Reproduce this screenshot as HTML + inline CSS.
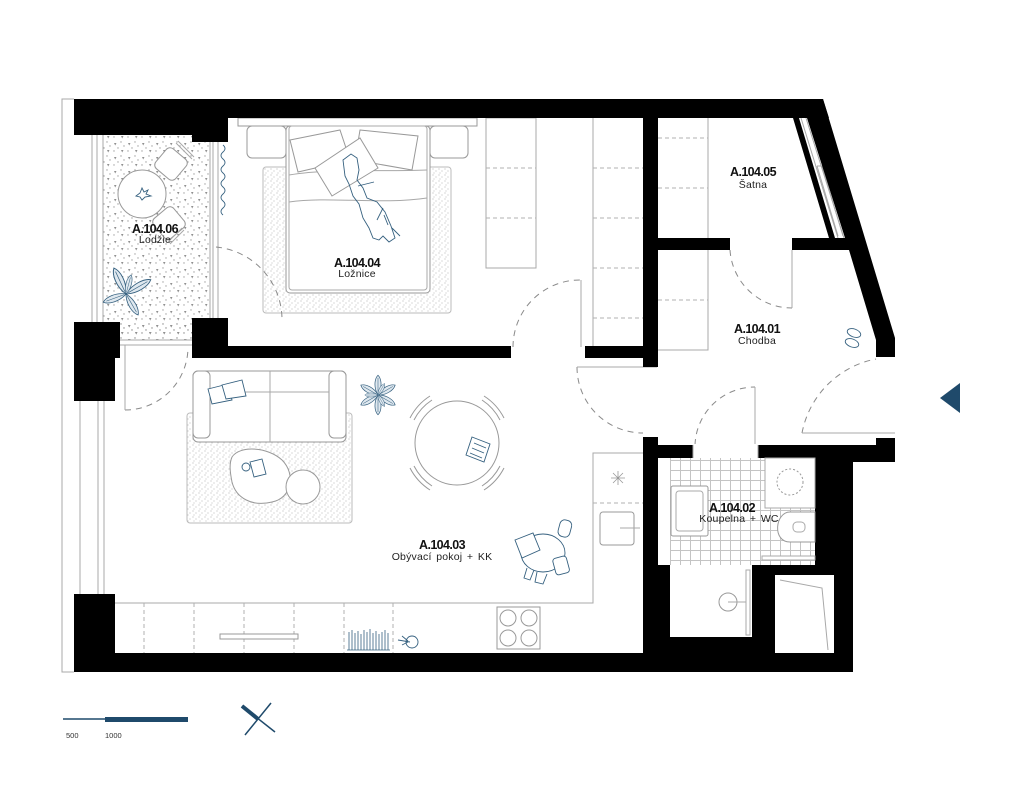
<!DOCTYPE html>
<html><head><meta charset="utf-8"><style>
html,body{margin:0;padding:0;background:#fff;}
svg{display:block;}
.lbl{font-family:"Liberation Sans",sans-serif;font-weight:bold;font-size:12.5px;letter-spacing:-0.6px;fill:#111;text-anchor:middle;}
.sub{font-family:"Liberation Sans",sans-serif;font-size:10.5px;letter-spacing:0.2px;word-spacing:1.5px;fill:#222;text-anchor:middle;}
.ln{fill:none;stroke:#a8a8a8;stroke-width:1;}
.dash{fill:none;stroke:#b0b0b0;stroke-width:1;stroke-dasharray:4 3;}
.arc{fill:none;stroke:#8a8a8a;stroke-width:1;stroke-dasharray:6 5;}
.bl{fill:#fff;stroke:#35607f;stroke-width:0.9;}
.blf{fill:none;stroke:#35607f;stroke-width:0.9;}
.w{fill:#000;}
</style></head><body>
<svg width="1024" height="786" viewBox="0 0 1024 786" xmlns="http://www.w3.org/2000/svg">
<defs>
<pattern id="logg" width="14" height="14" patternUnits="userSpaceOnUse">
<polygon points="2,3 4.5,3 3.2,5.5" fill="#909090"/>
<circle cx="9" cy="2" r="0.7" fill="#a0a0a0"/>
<circle cx="6" cy="8" r="0.7" fill="#a0a0a0"/>
<polygon points="9,10 11.5,10 10.2,12.5" fill="#909090"/>
<circle cx="12" cy="6" r="0.7" fill="#a0a0a0"/>
<circle cx="2" cy="11" r="0.7" fill="#a0a0a0"/>
</pattern>
<pattern id="rug" width="6" height="6" patternUnits="userSpaceOnUse">
<circle cx="1" cy="1" r="0.55" fill="#a0a0a0"/>
<circle cx="4" cy="3" r="0.55" fill="#a8a8a8"/>
<circle cx="2" cy="5" r="0.5" fill="#a8a8a8"/>
</pattern>
<pattern id="tile" width="10" height="10" patternUnits="userSpaceOnUse">
<path d="M0 0.5H10M0.5 0V10" stroke="#c4c4c4" stroke-width="1"/>
</pattern>
<g id="leaf"><path d="M0 0 C-5 -8 -4 -18 0 -22 C4 -18 5 -8 0 0Z" fill="#dfe8ef" stroke="#35607f" stroke-width="0.8"/><path d="M0 -2 V-19" stroke="#35607f" stroke-width="0.6"/></g>
</defs>

<!-- outer frame line -->
<path class="ln" d="M74 99H62V672H74" stroke="#c0c0c0"/>

<!-- loggia floor -->
<rect x="103" y="135" width="107" height="205" fill="url(#logg)"/>
<rect x="120" y="320" width="72" height="20" fill="url(#logg)"/>
<path class="ln" d="M92 135V322M97 135V322M103 135V322"/>
<path class="ln" d="M120 340H192M120 345H192"/>

<!-- loggia/bedroom window -->
<path class="ln" d="M210 142V320M213 142V320M218 142V320"/>
<!-- curtain -->
<path class="blf" stroke="#888" d="M223 145 q4 3.5 0 7 q-4 3.5 0 7 q4 3.5 0 7 q-4 3.5 0 7 q4 3.5 0 7 q-4 3.5 0 7 q4 3.5 0 7 q-4 3.5 0 7 q4 3.5 0 7 q-4 3.5 0 7"/>

<!-- loggia furniture -->
<circle cx="142" cy="194" r="24" fill="#fff" stroke="#999"/>
<path class="blf" d="M136 196 l4 -3 l2 -5 l2 4 l4 -2 l-2 4 l5 2 l-6 1 l-3 3 l-2 -3z"/>
<rect x="158" y="151" width="26" height="26" rx="5" fill="#fff" stroke="#999" transform="rotate(40 171 164)"/>
<path class="ln" d="M176 143 l16 16 M178 141 l16 16"/>
<rect x="156" y="210" width="26" height="26" rx="5" fill="#fff" stroke="#999" transform="rotate(-40 169 223)"/>
<path class="ln" d="M182 228 l-14 14 M184 230 l-14 14"/>
<g transform="translate(126,294)">
<use href="#leaf" transform="rotate(-25) scale(1.2,1.3)"/>
<use href="#leaf" transform="rotate(60) scale(1.1,1.3)"/>
<use href="#leaf" transform="rotate(150) scale(1,1.1)"/>
<use href="#leaf" transform="rotate(-110) scale(1,1.1)"/>
<use href="#leaf" transform="rotate(15) scale(0.8,0.9)"/>
</g>

<!-- bedroom -->
<rect x="263" y="167" width="188" height="146" rx="3" fill="url(#rug)" stroke="#bbb"/>
<rect x="238" y="118" width="239" height="8" fill="#fff" stroke="#999"/>
<rect x="247" y="126" width="39" height="32" rx="5" fill="#fff" stroke="#999"/>
<rect x="430" y="126" width="38" height="32" rx="5" fill="#fff" stroke="#999"/>
<rect x="286" y="126" width="144" height="167" rx="4" fill="#fff" stroke="#999"/>
<rect x="289" y="126" width="138" height="164" rx="3" fill="none" stroke="#aaa"/>
<path class="ln" d="M289 175 C330 168 380 172 427 170"/>
<path class="ln" d="M289 202 C330 196 380 205 427 198"/>
<polygon points="290,140 340,130 350,160 298,172" fill="#fff" stroke="#999"/>
<polygon points="360,130 418,136 412,170 355,160" fill="#fff" stroke="#999"/>
<polygon points="315,168 360,138 378,168 332,196" fill="#fff" stroke="#999"/>
<path class="blf" fill="#fff" d="M343 160 l8 -6 l6 4 l2 12 l-2 10 l6 8 l4 10 l10 4 l8 10 l6 14 l4 12 l-6 4 l-6 -6 l-4 4 l-6 -2 l-4 -10 l-6 -10 l-4 -14 l-6 -8 l-4 -12 l-4 -8 z"/>
<path class="blf" d="M358 186 l16 -4 M377 220 l6 -12 M384 215 l4 10 M392 228 l8 8"/>
<!-- bedroom wardrobes -->
<rect x="486" y="118" width="50" height="150" fill="#fff" stroke="#aaa"/>
<path class="dash" d="M486 168H536M486 218H536"/>
<path class="ln" d="M593 118V346"/>
<path class="dash" d="M593 168H643M593 218H643M593 268H643M593 318H643"/>

<!-- satna wardrobe -->
<path class="ln" d="M708 118V350H658"/>
<path class="dash" d="M658 138H708M658 188H708M658 300H708"/>

<!-- window slanted -->
<path class="ln" d="M801 118L838 238M806 118L844 238"/>
<path class="ln" d="M817 166L838 236M822 166L843 236M817 166H822"/>

<!-- living room -->
<rect x="187" y="413" width="165" height="110" rx="3" fill="url(#rug)" stroke="#bbb"/>
<rect x="193" y="371" width="153" height="71" rx="5" fill="#fff" stroke="#999"/>
<rect x="193" y="371" width="17" height="67" rx="5" fill="#fff" stroke="#999"/>
<rect x="329" y="371" width="17" height="67" rx="5" fill="#fff" stroke="#999"/>
<path class="ln" d="M210 392H329M270 371V442"/>
<polygon points="208,389 228,384 232,400 212,404" class="bl"/>
<polygon points="222,385 242,380 246,396 226,399" class="bl"/>
<path d="M232 457 C240 445 268 447 282 460 C296 474 292 498 272 502 C252 507 236 498 232 482 C230 472 229 464 232 457Z" fill="#fff" stroke="#999"/>
<circle cx="303" cy="487" r="17" fill="#fff" stroke="#999"/>
<polygon points="250,462 262,459 266,474 254,477" class="bl"/>
<circle cx="246" cy="467" r="4" class="bl"/>
<!-- plant -->
<g transform="translate(378,395)">
<use href="#leaf" transform="rotate(0) scale(0.9)"/>
<use href="#leaf" transform="rotate(60) scale(0.9)"/>
<use href="#leaf" transform="rotate(120) scale(0.9)"/>
<use href="#leaf" transform="rotate(180) scale(0.9)"/>
<use href="#leaf" transform="rotate(240) scale(0.9)"/>
<use href="#leaf" transform="rotate(300) scale(0.9)"/>
<use href="#leaf" transform="rotate(30) scale(0.6)"/>
<use href="#leaf" transform="rotate(150) scale(0.6)"/>
<use href="#leaf" transform="rotate(270) scale(0.6)"/>
</g>
<!-- dining -->
<circle cx="457" cy="443" r="42" fill="#fff" stroke="#999"/>
<g fill="none" stroke="#999">
<path d="M414 420 A52 52 0 0 1 432 400 M410 418 A57 57 0 0 1 430 396"/>
<path d="M482 400 A52 52 0 0 1 500 420 M484 396 A57 57 0 0 1 504 418"/>
<path d="M414 466 A52 52 0 0 0 432 486 M410 468 A57 57 0 0 0 430 490"/>
<path d="M482 486 A52 52 0 0 0 500 466 M484 490 A57 57 0 0 0 504 468"/>
</g>
<polygon points="472,437 490,444 484,462 466,455" class="bl"/>
<path class="blf" d="M474 443l12 5M472 448l12 5M470 453l12 5"/>
<!-- person -->
<g class="blf">
<ellipse cx="543" cy="553" rx="22" ry="19" fill="#fff"/>
<rect x="559" y="520" width="12" height="17" rx="5" fill="#fff" transform="rotate(15 565 528)"/>
<polygon points="515,540 533,533 540,550 522,558" fill="#fff"/>
<rect x="554" y="557" width="14" height="17" rx="3" fill="#fff" transform="rotate(-15 561 565)"/>
<path d="M527 568 l-3 10 l6 2 l4 -10 M537 572 l-2 10 l8 2 l4 -10"/>
</g>
<!-- kitchen -->
<path class="ln" d="M115 603H593V453H643"/>
<path class="dash" d="M144 603V653M194 603V653M244 603V653M294 603V653M344 603V653M393 603V653M593 503H643"/>
<rect x="220" y="634" width="78" height="5" fill="#fff" stroke="#999"/>
<g stroke="#35607f" stroke-width="0.8">
<path d="M349 650V632M352 650V630M355 650V633M358 650V631M361 650V634M364 650V630M367 650V632M370 650V629M373 650V633M376 650V631M379 650V634M382 650V632M385 650V630M388 650V633"/>
<path d="M347 650H390"/>
</g>
<circle cx="412" cy="642" r="6" class="blf"/>
<path class="blf" d="M398 640 l12 2 M402 636 l6 5 M402 645 l6 -3"/>
<rect x="497" y="607" width="43" height="42" fill="#fff" stroke="#999"/>
<circle cx="508" cy="618" r="8" fill="none" stroke="#999"/>
<circle cx="529" cy="618" r="8" fill="none" stroke="#999"/>
<circle cx="508" cy="638" r="8" fill="none" stroke="#999"/>
<circle cx="529" cy="638" r="8" fill="none" stroke="#999"/>
<rect x="600" y="512" width="34" height="33" rx="3" fill="#fff" stroke="#999"/>
<path class="ln" d="M620 528H640"/>
<path d="M611 478H625M618 471V485M613 473L623 483M623 473L613 483" stroke="#999" stroke-width="0.8"/>

<!-- left window of living room -->
<path class="ln" d="M80 401V594M98 401V594M104 401V594"/>

<!-- corridor shoes -->
<g class="blf"><ellipse cx="854" cy="333" rx="7" ry="4" transform="rotate(20 854 333)"/><ellipse cx="852" cy="343" rx="7" ry="4" transform="rotate(20 852 343)"/></g>

<!-- doors -->
<path class="arc" d="M216 247 A73 73 0 0 1 282 320"/>
<path class="arc" d="M513 347 A67 67 0 0 1 581 280"/>
<path class="ln" d="M581 280V347"/>
<path class="arc" d="M730 250 A62 62 0 0 0 792 308"/>
<path class="ln" d="M792 250V308"/>
<path class="arc" d="M577 367 A66 66 0 0 0 643 433"/>
<path class="ln" d="M577 367H657"/>
<path class="arc" d="M695 445 A60 60 0 0 1 755 387"/>
<path class="ln" d="M755 387V445"/>
<path class="arc" d="M802 433 A93 93 0 0 1 876 359"/>
<path class="ln" d="M802 433H895"/>
<path class="arc" d="M125 410 A63 63 0 0 0 188 347"/>
<path class="ln" d="M125 345V410M120 345H192"/>

<!-- walls -->
<polygon class="w" points="74,99 823,99 829,118 74,118"/>
<rect class="w" x="74" y="99" width="153" height="36"/>
<rect class="w" x="192" y="118" width="36" height="24"/>
<polygon class="w" points="823,99 895,338 895,357 876,357 876,340 849,250 792,250 792,238 845,238 807,118 823,118"/>
<polygon class="w" points="793,118 799,118 835,238 829,238"/>
<rect class="w" x="192" y="318" width="36" height="40"/>
<rect class="w" x="228" y="346" width="283" height="12"/>
<rect class="w" x="585" y="346" width="73" height="12"/>
<rect class="w" x="643" y="99" width="15" height="268"/>
<rect class="w" x="658" y="238" width="72" height="12"/>
<rect class="w" x="74" y="322" width="46" height="36"/>
<rect class="w" x="74" y="358" width="41" height="43"/>
<rect class="w" x="74" y="594" width="41" height="78"/>
<rect class="w" x="74" y="653" width="779" height="19"/>
<rect class="w" x="643" y="437" width="15" height="235"/>
<rect class="w" x="643" y="445" width="210" height="227"/>
<rect class="w" x="853" y="445" width="42" height="17"/>
<rect class="w" x="876" y="438" width="19" height="24"/>
<!-- bathroom interior -->
<rect x="693" y="444" width="65" height="14" fill="#fff"/>
<rect x="658" y="458" width="157" height="107" fill="#fff"/>
<rect x="670" y="458" width="145" height="107" fill="url(#tile)"/>
<rect x="670" y="565" width="82" height="72" fill="#fff"/>
<rect x="775" y="575" width="59" height="78" fill="#fff"/>
<path class="ln" d="M780 580L822 588L828 650"/>
<rect x="765" y="458" width="50" height="50" fill="#fff" stroke="#aaa"/>
<circle cx="790" cy="482" r="13" fill="none" stroke="#999" stroke-dasharray="2 2"/>
<rect x="671" y="486" width="37" height="50" rx="2" fill="#fff" stroke="#999"/>
<rect x="676" y="491" width="27" height="40" rx="3" fill="none" stroke="#aaa"/>
<path d="M815 512H790 C775 512 772 542 790 542H815Z" fill="#fff" stroke="#999"/>
<rect x="793" y="522" width="12" height="10" rx="4" fill="none" stroke="#aaa"/>
<rect x="762" y="556" width="53" height="4" fill="#fff" stroke="#aaa"/>
<circle cx="728" cy="602" r="9" fill="none" stroke="#999"/>
<path class="ln" d="M728 602H750"/>
<rect x="746" y="570" width="4" height="65" fill="#fff" stroke="#aaa"/>
<path class="ln" d="M693 445V458M758 445V458"/>

<!-- labels -->
<text class="lbl" x="155" y="233">A.104.06</text>
<text class="sub" x="155" y="243">Lodžie</text>
<text class="lbl" x="357" y="267">A.104.04</text>
<text class="sub" x="357" y="277">Ložnice</text>
<text class="lbl" x="753" y="176">A.104.05</text>
<text class="sub" x="753" y="188">Šatna</text>
<text class="lbl" x="757" y="333">A.104.01</text>
<text class="sub" x="757" y="344">Chodba</text>
<text class="lbl" x="442" y="549">A.104.03</text>
<text class="sub" x="442" y="560">Obývací pokoj + KK</text>
<text class="lbl" x="732" y="512">A.104.02</text>
<text class="sub" x="739" y="522">Koupelna + WC</text>

<!-- entrance arrow -->
<polygon points="940,398 960,383 960,413" fill="#1f4a6b"/>

<!-- scale -->
<line x1="63" y1="719" x2="105" y2="719" stroke="#1f4a6b" stroke-width="1.5"/>
<rect x="105" y="717" width="83" height="5" fill="#1f4a6b"/>
<text x="66" y="738" font-family="Liberation Sans, sans-serif" font-size="7.5" fill="#333">500</text>
<text x="105" y="738" font-family="Liberation Sans, sans-serif" font-size="7.5" fill="#333">1000</text>

<!-- north -->
<line x1="242" y1="706" x2="275" y2="732" stroke="#1f4a6b" stroke-width="1.5"/>
<line x1="242" y1="706" x2="258" y2="719" stroke="#1f4a6b" stroke-width="4"/>
<line x1="271" y1="703" x2="245" y2="735" stroke="#1f4a6b" stroke-width="1.5"/>
</svg>
</body></html>
